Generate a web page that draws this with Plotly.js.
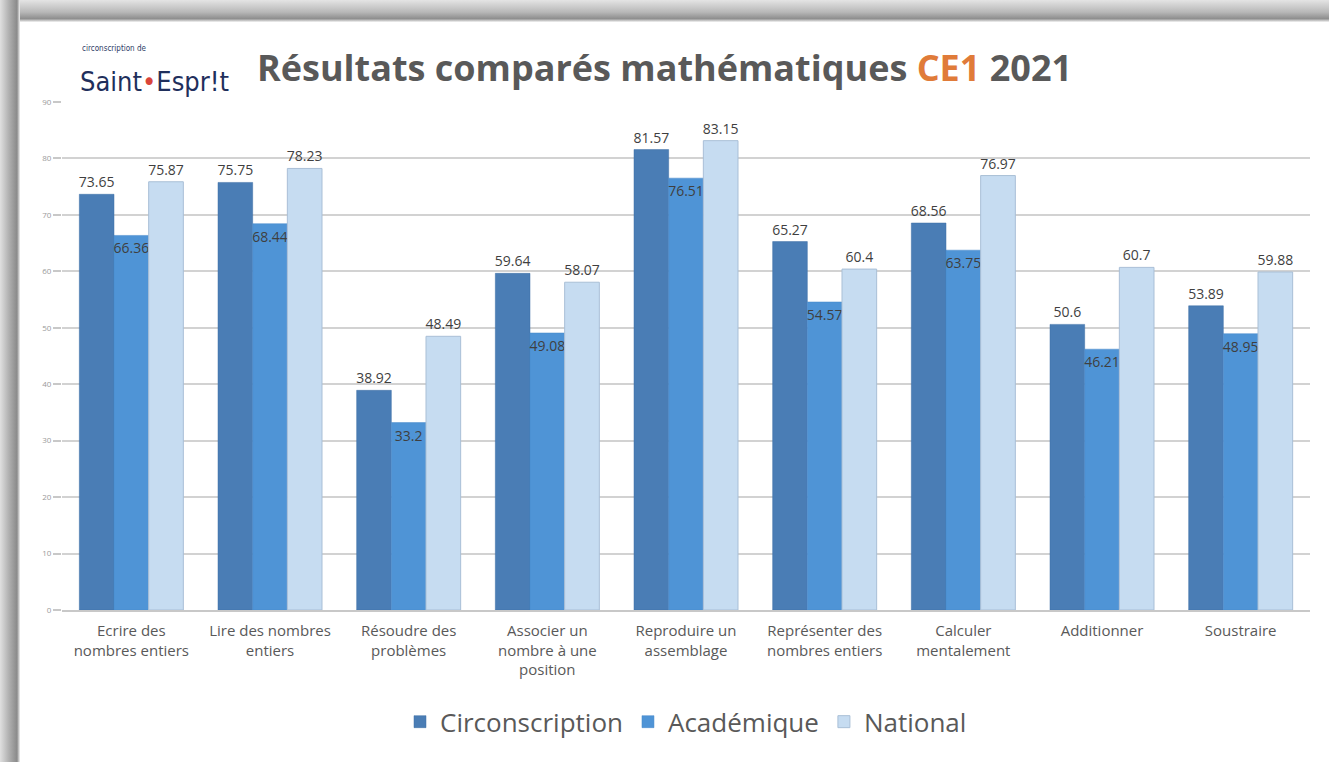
<!DOCTYPE html>
<html>
<head>
<meta charset="utf-8">
<script src="https://cdn.plot.ly/plotly-3.0.1.min.js"></script>
<style>
  html, body { margin: 0; padding: 0; background: #ffffff; width: 1329px; height: 762px; overflow: hidden; }
  #topframe { position: absolute; left: 0; top: 0; width: 1329px; height: 22px;
    background: linear-gradient(to bottom, #e4e4e4 0%, #b8b8b8 55%, #8e8e8e 85%, #f4f4f4 100%); z-index: 0; }
  #leftframe { position: absolute; left: 0; top: 0; width: 20px; height: 762px;
    background: linear-gradient(to right, #e0e0e0 0%, #b0b0b0 45%, #8a8a8a 85%, #f2f2f2 100%); z-index: 0; }
  #chart { position: absolute; left: 0; top: 0; width: 1329px; height: 762px; z-index: 1; }
</style>
</head>
<body>
<div id="topframe"></div>
<div id="leftframe"></div>
<div id="chart"></div>
<script>
const categories = [
  "Ecrire des<br>nombres entiers",
  "Lire des nombres<br>entiers",
  "Résoudre des<br>problèmes",
  "Associer un<br>nombre à une<br>position",
  "Reproduire un<br>assemblage",
  "Représenter des<br>nombres entiers",
  "Calculer<br>mentalement",
  "Additionner",
  "Soustraire"
];
const circonscription = [73.65, 75.75, 38.92, 59.64, 81.57, 65.27, 68.56, 50.6, 53.89];
const academique      = [66.36, 68.44, 33.2, 49.08, 76.51, 54.57, 63.75, 46.21, 48.95];
const national        = [75.87, 78.23, 48.49, 58.07, 83.15, 60.4, 76.97, 60.7, 59.88];
const yTicks = [0, 10, 20, 30, 40, 50, 60, 70, 80, 90];

const labelFont = { family: "Open Sans, Lato, sans-serif", size: 14, color: "#3f3f3f" };

const traces = [
  {
    type: "bar", name: "Circonscription", x: categories, y: circonscription,
    marker: { color: "#4a7db5", line: { color: "#3d6ea5", width: 0.5 } },
    text: circonscription.map(String), textposition: "outside",
    textfont: labelFont, constraintext: "none", cliponaxis: false
  },
  {
    type: "bar", name: "Académique", x: categories, y: academique,
    marker: { color: "#4f94d6", line: { color: "#4688cb", width: 0.5 } },
    text: academique.map(String), textposition: "inside", insidetextanchor: "end",
    insidetextfont: labelFont, textfont: labelFont, constraintext: "none", textangle: 0
  },
  {
    type: "bar", name: "National", x: categories, y: national,
    marker: { color: "#c6dcf1", line: { color: "#a9bfd6", width: 1 } },
    text: national.map(String), textposition: "outside",
    textfont: labelFont, constraintext: "none", cliponaxis: false
  }
];

const layout = {
  width: 1329, height: 762,
  paper_bgcolor: "rgba(0,0,0,0)",
  plot_bgcolor: "rgba(0,0,0,0)",
  margin: { l: 62, r: 19, t: 102, b: 152 },
  barmode: "group", bargap: 0.25, bargroupgap: 0,
  showlegend: true,
  legend: {
    orientation: "h", x: 0.5, xanchor: "center", y: -0.22, yanchor: "middle",
    font: { family: "Open Sans, Lato, sans-serif", size: 26, color: "#595959" },
    itemwidth: 30, tracegroupgap: 0
  },
  xaxis: {
    tickfont: { family: "Open Sans, Lato, sans-serif", size: 15, color: "#595959" },
    showline: true, linecolor: "#c8c8c8", linewidth: 2,
    ticks: "", tickangle: 0, automargin: false, ticklabelstandoff: 6
  },
  yaxis: {
    range: [0, 90], tickvals: yTicks, ticktext: yTicks.map(String),
    tickfont: { family: "Open Sans, sans-serif", size: 8, color: "#9a9a9a" },
    showgrid: true, gridcolor: "#d2d2d2", gridwidth: 2,
    ticks: "outside", ticklen: 8, tickcolor: "#c8c8c8", tickwidth: 2,
    zeroline: false, showline: false, automargin: false
  },
  shapes: [
    { type: "rect", xref: "paper", yref: "y", x0: 0.004, x1: 0.15, y0: 88.5, y1: 91.5,
      fillcolor: "#ffffff", line: { width: 0 }, layer: "above" }
  ],
  annotations: [
    {
      xref: "paper", yref: "paper", x: 0.1546, y: 1.067, xanchor: "left", yanchor: "middle",
      text: "<b>Résultats comparés mathématiques <span style='color:#e07b39'>CE1</span> 2021</b>",
      showarrow: false,
      font: { family: "Open Sans, Lato, sans-serif", size: 36, color: "#595959" }
    },
    {
      xref: "paper", yref: "paper", x: 0.0144, y: 1.106, xanchor: "left", yanchor: "middle",
      text: "circonscription de", showarrow: false,
      font: { family: "DejaVu Sans Condensed, Liberation Sans Narrow, sans-serif", size: 8, color: "#2d3c66" }
    },
    {
      xref: "paper", yref: "paper", x: 0.013, y: 1.04, xanchor: "left", yanchor: "middle",
      text: "Saint<span style='color:#d9453a'>•</span>Espr!t", showarrow: false,
      font: { family: "DejaVu Sans Condensed, Liberation Sans Narrow, sans-serif", size: 27, color: "#1f2f5c" }
    }
  ]
};

Plotly.newPlot("chart", traces, layout, { displayModeBar: false, staticPlot: true });
</script>
</body>
</html>
